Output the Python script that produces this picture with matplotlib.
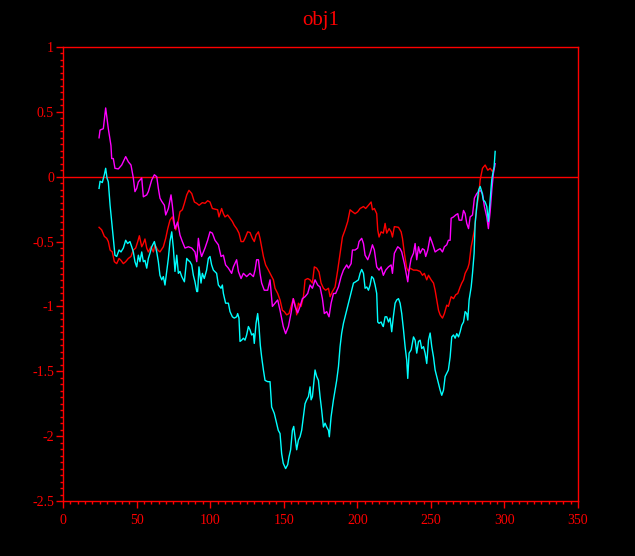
import matplotlib
matplotlib.use("Agg")
import matplotlib.pyplot as plt
from matplotlib.ticker import MultipleLocator, FixedLocator
import numpy as np

plt.rcParams['axes.unicode_minus'] = False

title = "obj1"
xticks = [0, 50, 100, 150, 200, 250, 300, 350]
yticks = [-2.5, -2, -1.5, -1, -0.5, 0, 0.5, 1]
ytick_labels = ["-2.5", "-2", "-1.5", "-1", "-0.5", "0", "0.5", "1"]

# ---------------- magenta series ----------------
mag_x = [24.5, 25.2, 27.4, 29.0, 30.8, 32.6, 33.1, 34.2, 35.3, 37.6, 39.9, 42.6, 44.4, 46.2, 47.8, 48.9, 50.1, 51.2, 53.5, 54.6,
         56.9, 58.0, 60.3, 62.1, 63.7, 64.8, 65.9, 67.1, 68.9, 69.8, 71.6, 73.4, 74.3, 75.2, 76.1, 77.9, 79.5, 81.1, 82.9, 85.2,
         87.5, 89.7, 90.9, 92.0,
         93.1, 94.2, 96.5, 98.3, 99.9, 101.5, 103.3, 105.6, 107.4, 109.0, 110.5, 112.4, 114.6, 115.8, 118.0, 119.2, 121.0, 122.6,
         124.8, 127.1, 129.4, 130.5, 131.6, 132.8, 133.9, 135.0, 136.8, 139.1, 140.7, 142.3, 144.1, 145.9, 147.5, 149.7, 151.3,
         153.2, 155.0, 156.5, 157.7,
         159.5, 161.1, 162.7, 164.5, 166.3, 167.9, 169.5, 171.3, 173.1, 174.7, 176.3, 177.6, 179.2, 180.8, 182.2, 183.8, 185.3,
         187.2, 189.0, 190.6, 192.8, 194.0, 195.8, 196.7, 198.5, 200.3, 201.2, 203.0, 204.2, 205.3, 207.1, 208.7, 210.3, 211.6,
         213.2, 214.8, 216.2, 217.7, 219.3, 221.2, 223.0, 223.9, 225.2,
         227.5, 229.1, 230.2, 232.0, 233.6, 234.3, 235.2, 236.6, 238.2, 239.3, 240.4, 241.6, 242.7, 244.3, 245.6, 246.5, 247.9,
         249.5, 251.1, 252.9, 254.7, 256.3, 257.9, 259.2, 260.8, 261.9, 263.1, 263.8, 265.4, 266.9, 268.3, 269.2, 271.0, 272.2,
         273.3, 274.4, 275.6, 276.7, 278.3, 279.6, 281.2, 282.4, 283.5, 285.1, 286.4, 288.0, 289.1, 290.3, 291.4, 292.5, 293.7]
mag_y = [0.30, 0.36, 0.37, 0.53, 0.37, 0.24, 0.14, 0.14, 0.065, 0.06, 0.09, 0.155, 0.115, 0.09, -0.01, -0.115, -0.09, -0.04, -0.01, -0.155,
         -0.14, -0.115, -0.025, 0.015, 0.0, -0.09, -0.165, -0.19, -0.22, -0.295, -0.245, -0.14, -0.22, -0.32, -0.40, -0.35, -0.45, -0.50, -0.55, -0.54,
         -0.55, -0.58, -0.655, -0.475,
         -0.565, -0.615, -0.55, -0.49, -0.425, -0.435, -0.49, -0.525, -0.615, -0.605, -0.68, -0.705, -0.745, -0.695, -0.64, -0.73, -0.785, -0.745,
         -0.77, -0.745, -0.77, -0.72, -0.64, -0.64, -0.745, -0.82, -0.875, -0.875, -0.795, -1.0, -0.975, -0.95, -1.03, -1.155, -1.21,
         -1.155, -1.05, -0.94, -1.0,
         -1.05, -1.0, -0.94, -0.925, -0.9, -0.835, -0.86, -0.795, -0.835, -0.85, -0.94, -1.055, -1.04, -1.08, -0.975, -0.9, -0.9,
         -0.85, -0.77, -0.72, -0.68, -0.705, -0.67, -0.565, -0.565, -0.55, -0.5, -0.475, -0.515, -0.605, -0.64, -0.59, -0.525, -0.565,
         -0.695, -0.72, -0.695, -0.76, -0.72, -0.695, -0.68, -0.745, -0.59,
         -0.54, -0.555, -0.58, -0.67, -0.77, -0.81, -0.72, -0.63, -0.59, -0.515, -0.64, -0.54, -0.59, -0.555, -0.565, -0.615, -0.565,
         -0.465, -0.515, -0.58, -0.565, -0.555, -0.58, -0.54, -0.525, -0.49, -0.49, -0.32, -0.31, -0.295, -0.285, -0.335, -0.335, -0.26,
         -0.285, -0.36, -0.4, -0.31, -0.295, -0.165, -0.13, -0.115, -0.105, -0.13, -0.23, -0.31, -0.4, -0.27, -0.105, 0.025, 0.1]

# ---------------- red series ----------------
red_x = [24.5, 26.3, 28.1, 29.7, 30.8, 32.0, 33.5, 34.9, 36.5, 38.1, 39.4, 41.0, 42.6, 44.4, 46.2, 47.8, 49.4, 50.8, 51.9, 53.5,
         54.6, 55.7, 56.9, 58.0, 59.8, 61.4, 62.5, 64.4, 65.9, 68.2, 69.8, 71.2, 72.7, 74.3, 75.7, 76.6, 78.0, 79.5, 81.1, 82.5,
         84.1, 85.6, 87.5, 89.3, 90.9, 92.5,
         94.7, 96.5, 98.3, 99.9, 101.5, 103.3, 105.1, 106.0, 107.8, 109.0, 110.1, 111.9, 113.5, 115.1, 116.4, 118.0, 119.6, 121.0,
         122.6, 123.7, 125.5, 127.1, 128.7, 130.0, 131.2, 132.8, 133.9, 135.0, 136.2, 137.7, 139.6, 141.4, 143.0, 144.1, 145.9,
         147.5, 149.1, 150.4, 152.0, 153.6, 155.0, 156.5,
         158.2, 158.8, 160.0, 161.8, 163.4, 164.5, 166.3, 167.9, 169.5, 170.8, 172.4, 174.0, 175.4, 177.0, 178.5, 180.4, 181.5,
         183.1, 184.9, 186.7, 188.3, 189.9, 191.7, 193.5, 195.1, 196.7, 198.5, 200.3, 201.9, 204.2, 205.7, 207.6, 209.4, 210.3,
         211.6, 213.2, 213.9, 214.8, 216.2, 217.7, 218.9, 220.0, 221.6, 223.0, 223.9, 225.2,
         228.0, 229.8, 230.7, 232.0, 233.6, 234.8, 235.9, 238.2, 240.4, 242.7, 244.3, 245.6, 247.2, 248.4, 250.2, 251.8, 252.9,
         254.0, 255.2, 256.3, 257.9, 259.2, 260.8, 261.9, 263.8, 265.4, 266.9, 268.3, 269.9, 271.0, 272.2, 273.3, 275.1, 276.0,
         277.4, 278.3, 279.6, 281.2, 282.4, 283.5, 285.1, 286.9, 288.7, 290.3, 291.9, 293.2]
red_y = [-0.39, -0.41, -0.46, -0.475, -0.5, -0.565, -0.58, -0.655, -0.67, -0.63, -0.645, -0.67, -0.655, -0.63, -0.615, -0.565, -0.55, -0.5, -0.455, -0.54,
         -0.515, -0.48, -0.55, -0.58, -0.54, -0.58, -0.525, -0.565, -0.58, -0.54, -0.475, -0.4, -0.335, -0.31, -0.375, -0.41, -0.36, -0.27, -0.255, -0.205,
         -0.14, -0.105, -0.13, -0.195, -0.205, -0.22,
         -0.2, -0.205, -0.185, -0.195, -0.245, -0.25, -0.255, -0.31, -0.245, -0.285, -0.31, -0.295, -0.32, -0.345, -0.375, -0.4, -0.435, -0.5,
         -0.5, -0.475, -0.425, -0.43, -0.475, -0.5, -0.45, -0.425, -0.475, -0.54, -0.615, -0.68, -0.72, -0.76, -0.795, -0.86, -0.9,
         -0.95, -1.03, -1.04, -1.065, -1.055, -1.0, -0.94,
         -1.0, -1.065, -0.975, -1.0, -0.925, -0.795, -0.785, -0.795, -0.82, -0.695, -0.705, -0.735, -0.82, -0.86, -0.875, -0.86, -0.925,
         -0.885, -0.85, -0.72, -0.59, -0.465, -0.41, -0.345, -0.255, -0.27, -0.285, -0.27, -0.245, -0.23, -0.245, -0.22, -0.195, -0.255,
         -0.245, -0.285, -0.41, -0.465, -0.425, -0.435, -0.36, -0.435, -0.4, -0.425, -0.465, -0.385,
         -0.39, -0.425, -0.475, -0.59, -0.705, -0.73, -0.705, -0.72, -0.72, -0.73, -0.76, -0.745, -0.795, -0.76, -0.795, -0.82, -0.875,
         -0.95, -1.03, -1.065, -1.09, -1.055, -0.99, -1.0, -0.925, -0.94, -0.91, -0.9, -0.85, -0.82, -0.795, -0.745, -0.705, -0.67,
         -0.54, -0.49, -0.41, -0.23, -0.155, -0.025, 0.065, 0.09, 0.05, 0.065, 0.04, 0.075]

# ---------------- cyan series ----------------
cyan_x = [24.5, 25.2, 26.7, 28.1, 29.0, 29.9, 30.8, 32.0, 33.1, 34.2, 35.3, 36.5, 38.1, 39.4, 41.0, 42.6, 43.9, 45.5, 46.7, 47.8,
          48.9, 50.1, 51.2, 52.3, 53.5, 54.6, 55.7, 56.9, 58.0, 59.1, 60.3, 62.1, 63.7, 64.8, 65.9, 67.1, 68.2, 69.3, 70.5, 71.6,
          72.7, 73.9, 75.0, 76.1, 77.3, 78.4, 79.5, 80.7, 82.5, 84.1, 85.2, 86.3, 87.5, 88.6, 89.7, 90.9,
          91.5, 92.4, 93.8, 94.7, 96.0, 97.6, 98.8, 99.9, 101.0, 102.2, 104.4, 105.6, 107.4, 108.3, 109.0, 110.5, 112.4, 113.5,
          115.1, 116.4, 118.0, 118.7, 119.6, 120.3, 121.4, 122.6, 123.7, 124.8, 126.0, 127.1, 128.2, 129.4, 130.0, 131.2, 132.3,
          133.2, 134.1, 135.0, 136.2, 137.3, 139.1, 140.7, 141.8, 143.6, 145.2, 146.3, 147.5, 148.6, 149.7, 151.3, 152.7, 153.6,
          154.7, 155.9, 156.8,
          158.8, 160.0, 161.1, 162.2, 163.4, 164.5, 165.6, 166.8, 167.9, 168.6, 169.5, 170.4, 171.3, 172.4, 173.6, 174.7, 175.8,
          177.0, 178.1, 179.2, 180.4, 181.0, 182.2, 183.8, 184.9, 186.0, 187.2, 188.3, 189.4, 190.6, 191.7, 192.8, 194.0, 195.1,
          196.2, 197.4, 198.9, 200.8, 201.9, 203.0, 204.2, 205.3, 206.4, 207.6, 208.7, 209.8, 211.0, 212.1, 213.2, 213.9, 214.8,
          216.2, 217.1, 217.7, 218.9, 220.0, 221.2, 222.3, 223.4, 224.5, 225.7,
          226.8, 228.0, 229.1, 230.2, 231.4, 232.5, 233.6, 234.3, 235.2, 236.6, 238.2, 239.3, 240.4, 241.6, 242.7, 243.8, 245.0,
          246.1, 247.2, 248.4, 249.5, 250.6, 251.8, 252.9, 254.0, 255.2, 256.3, 257.4, 258.6, 259.7, 260.8, 261.9, 263.1, 264.2,
          265.4, 266.5, 267.6, 268.8, 269.9, 271.0, 272.2, 273.3, 274.4, 275.1, 276.0, 277.4, 278.3, 279.4, 280.1, 281.2, 282.4,
          283.5, 284.6, 285.7, 286.9, 288.0, 289.1, 290.3, 291.4, 292.1, 293.0, 293.7]
cyan_y = [-0.09, -0.035, -0.045, 0.015, 0.065, -0.01, -0.04, -0.22, -0.345, -0.475, -0.605, -0.615, -0.565, -0.58, -0.55, -0.49, -0.515, -0.5, -0.54, -0.58,
          -0.655, -0.695, -0.605, -0.655, -0.58, -0.655, -0.645, -0.705, -0.63, -0.59, -0.54, -0.5, -0.58, -0.655, -0.76, -0.795, -0.77, -0.835, -0.73, -0.63,
          -0.5, -0.425, -0.55, -0.73, -0.605, -0.745, -0.73, -0.77, -0.81, -0.63, -0.645, -0.655, -0.68, -0.76, -0.81, -0.885,
          -0.885, -0.695, -0.82, -0.745, -0.785, -0.72, -0.63, -0.615, -0.68, -0.72, -0.745, -0.835, -0.86, -0.835, -0.9, -0.975, -0.975, -1.04,
          -1.08, -1.09, -1.08, -1.055, -1.09, -1.27, -1.26, -1.245, -1.26, -1.22, -1.155, -1.18, -1.22, -1.21, -1.285, -1.13, -1.055,
          -1.155, -1.3, -1.39, -1.49, -1.57, -1.58, -1.58, -1.775, -1.825, -1.9, -1.955, -1.98, -2.135, -2.21, -2.25, -2.22, -2.16,
          -2.105, -1.955, -1.925,
          -2.105, -2.03, -2.005, -1.955, -1.85, -1.75, -1.72, -1.695, -1.62, -1.72, -1.695, -1.595, -1.49, -1.54, -1.57, -1.695, -1.8,
          -1.93, -1.9, -1.93, -1.955, -2.005, -1.85, -1.72, -1.645, -1.57, -1.465, -1.31, -1.205, -1.13, -1.08, -1.03, -0.975, -0.925,
          -0.875, -0.82, -0.81, -0.795, -0.745, -0.715, -0.745, -0.86, -0.85, -0.875, -0.835, -0.77, -0.785, -0.835, -0.9, -1.12, -1.13,
          -1.12, -1.145, -1.155, -1.08, -1.08, -1.12, -1.09, -1.195, -1.08, -0.975,
          -0.95, -0.94, -0.975, -1.055, -1.18, -1.31, -1.415, -1.555, -1.36, -1.335, -1.235, -1.26, -1.36, -1.27, -1.26, -1.325, -1.31,
          -1.36, -1.44, -1.26, -1.205, -1.31, -1.39, -1.49, -1.54, -1.595, -1.645, -1.685, -1.645, -1.54, -1.515, -1.49, -1.39, -1.235,
          -1.22, -1.245, -1.21, -1.235, -1.195, -1.145, -1.12, -1.04, -1.055, -1.105, -0.95, -0.85, -0.745, -0.59, -0.36, -0.23, -0.105,
          -0.075, -0.115, -0.18, -0.195, -0.23, -0.345, -0.18, -0.025, 0.025, 0.075, 0.195]

RED = '#ff0000'
FONT = 'Liberation Serif'

fig = plt.figure(figsize=(6.35, 5.56), dpi=100, facecolor='black')
ax = fig.add_axes([63/635, 1 - 501/556, 515/635, 454/556])
ax.set_facecolor('black')

ax.axhline(0, color=RED, lw=1.0, zorder=1)
ax.plot(red_x, red_y, color='#ff0000', lw=1.0, zorder=2)
ax.plot(mag_x, mag_y, color='#ff00ff', lw=1.0, zorder=3)
ax.plot(cyan_x, cyan_y, color='#00ffff', lw=1.0, zorder=4)

ax.set_xlim(0, 350)
ax.set_ylim(-2.5, 1)
ax.xaxis.set_major_locator(FixedLocator(xticks))
ax.xaxis.set_minor_locator(MultipleLocator(5))
ax.yaxis.set_major_locator(FixedLocator(yticks))
ax.yaxis.set_minor_locator(MultipleLocator(0.05))
ax.set_yticklabels(ytick_labels)
ax.set_xticklabels([str(v) for v in xticks])

for sp in ax.spines.values():
    sp.set_color(RED)
    sp.set_linewidth(1.0)

ax.tick_params(axis='both', which='major', direction='out', color=RED, labelcolor=RED,
               length=5, width=1, labelsize=10)
ax.tick_params(axis='both', which='minor', direction='out', color=RED, length=2.5, width=1)
ax.tick_params(axis='x', which='major', pad=4)
ax.tick_params(axis='y', which='major', pad=1.5)
for lbl in ax.get_xticklabels() + ax.get_yticklabels():
    lbl.set_fontfamily(FONT)

fig.text((63 + 578) / 2 / 635, 1 - 25 / 556, title, ha='center', va='baseline',
         color=RED, fontsize=15, fontfamily=FONT)

fig.savefig('out.png', dpi=100, facecolor='black')
